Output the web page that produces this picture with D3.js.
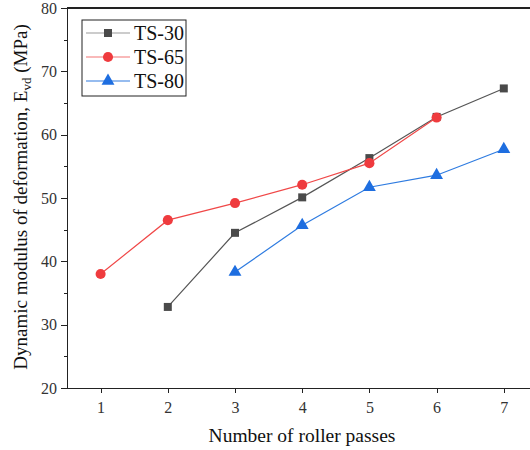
<!DOCTYPE html>
<html lang="en">
<head>
  <meta charset="UTF-8">
  <title>Evd vs roller passes</title>
  <style>
    body { margin: 0; background: #fff; }
    svg text { font-family: "Liberation Serif", "Times New Roman", serif; }
    .axis path, .axis line { stroke: #222; shape-rendering: crispEdges; }
    .axis text { fill: #333; font-size: 16px; font-family: "Liberation Serif", "Times New Roman", serif; }
    .series { fill: none; stroke-width: 1.2px; }
  </style>
</head>
<body>
  <script src="https://cdnjs.cloudflare.com/ajax/libs/d3/7.8.5/d3.min.js"></script>
  <script>
    // data
    var passes = [1, 2, 3, 4, 5, 6, 7];
    var ts30 = [null, 32.8, 44.5, 50.1, 56.3, 62.8, 67.3];
    var ts65 = [38.0, 46.5, 49.2, 52.1, 55.5, 62.7, null];
    var ts80 = [null, null, 38.3, 45.7, 51.7, 53.6, 57.7];
    var seriesNames = ["TS-30", "TS-65", "TS-80"];
    var yTicks = [20, 30, 40, 50, 60, 70, 80];

    var W = 530, H = 450;
    var margin = {top: 8, left: 67, bottom: 62};
    var plotW = 504, plotH = H - margin.top - margin.bottom;
    var serif = "'Liberation Serif', 'Times New Roman', serif";

    var series = [
      {name: seriesNames[0], values: ts30, line: "#555", legendLine: "#999", fill: "#4a4a4a", shape: d3.symbolSquare, size: 64},
      {name: seriesNames[1], values: ts65, line: "#f04848", legendLine: "#f47474", fill: "#ef3b3e", shape: d3.symbolCircle, size: 80},
      {name: seriesNames[2], values: ts80, line: "#2e7be0", legendLine: "#2e7be0", fill: "#1e6ee0", shape: d3.symbolTriangle, size: 72}
    ];

    var x = d3.scaleLinear().domain([0.5, 8]).range([0, plotW]);
    var y = d3.scaleLinear().domain([20, 80]).range([plotH, 0]);

    var svg = d3.select("body").append("svg")
      .attr("width", W)
      .attr("height", H);

    var g = svg.append("g")
      .attr("transform", "translate(" + margin.left + "," + margin.top + ")");

    // frame (right side runs off the picture)
    g.append("line").attr("x1", 0).attr("x2", plotW + 20).attr("y1", 0).attr("y2", 0)
      .attr("stroke", "#222").attr("stroke-width", 1.5).attr("shape-rendering", "crispEdges");

    var xAxis = g.append("g")
      .attr("class", "axis")
      .attr("transform", "translate(0," + plotH + ")")
      .call(d3.axisBottom(x).tickValues(passes).tickFormat(d3.format("d")).tickSize(5).tickSizeOuter(0).tickPadding(9));
    xAxis.select(".domain").attr("stroke-width", 1.5);

    // minor y ticks
    g.append("g")
      .attr("class", "axis")
      .call(d3.axisLeft(y).tickValues(d3.range(25, 80, 10)).tickSize(3).tickFormat(""))
      .select(".domain").remove();

    var yAxis = g.append("g")
      .attr("class", "axis")
      .call(d3.axisLeft(y).tickValues(yTicks).tickSize(6).tickSizeOuter(0).tickPadding(4));
    yAxis.select(".domain").attr("stroke-width", 1.5);
    g.selectAll(".axis").attr("font-family", serif);

    var line = d3.line()
      .defined(function (d) { return d.v != null; })
      .x(function (d) { return x(d.p); })
      .y(function (d) { return y(d.v); });

    series.forEach(function (s) {
      var pts = passes.map(function (p, i) { return {p: p, v: s.values[i]}; });
      g.append("path")
        .datum(pts)
        .attr("class", "series")
        .attr("stroke", s.line)
        .attr("d", line);
      g.selectAll(null)
        .data(pts.filter(function (d) { return d.v != null; }))
        .enter().append("path")
        .attr("d", d3.symbol().type(s.shape).size(s.size))
        .attr("fill", s.fill)
        .attr("transform", function (d) { return "translate(" + x(d.p) + "," + y(d.v) + ")"; });
    });

    // legend
    var leg = svg.append("g").attr("transform", "translate(82,20)");
    leg.append("rect")
      .attr("width", 104).attr("height", 76)
      .attr("fill", "#fff").attr("stroke", "#222").attr("stroke-width", 1);
    series.forEach(function (s, i) {
      var row = leg.append("g").attr("transform", "translate(0," + (13 + i * 24) + ")");
      row.append("line").attr("x1", 4).attr("x2", 48).attr("stroke", s.legendLine).attr("stroke-width", 1.2);
      row.append("path")
        .attr("d", d3.symbol().type(s.shape).size(s.size))
        .attr("fill", s.fill)
        .attr("transform", "translate(26,0)");
      row.append("text")
        .attr("x", 52).attr("y", 7)
        .attr("font-family", serif)
        .attr("font-size", 20).attr("fill", "#111")
        .text(s.name);
    });

    // axis titles
    svg.append("text")
      .attr("x", 302).attr("y", 442)
      .attr("text-anchor", "middle")
      .attr("font-family", serif)
      .attr("font-size", 19.5).attr("fill", "#111")
      .text("Number of roller passes");

    var yt = svg.append("text")
      .attr("transform", "translate(27,197) rotate(-90)")
      .attr("text-anchor", "middle")
      .attr("font-family", serif)
      .attr("font-size", 19).attr("fill", "#111");
    yt.append("tspan").text("Dynamic modulus of deformation, E");
    yt.append("tspan").attr("dy", 4).attr("font-size", 13).text("vd");
    yt.append("tspan").attr("dy", -4).text(" (MPa)");
  </script>
</body>
</html>
